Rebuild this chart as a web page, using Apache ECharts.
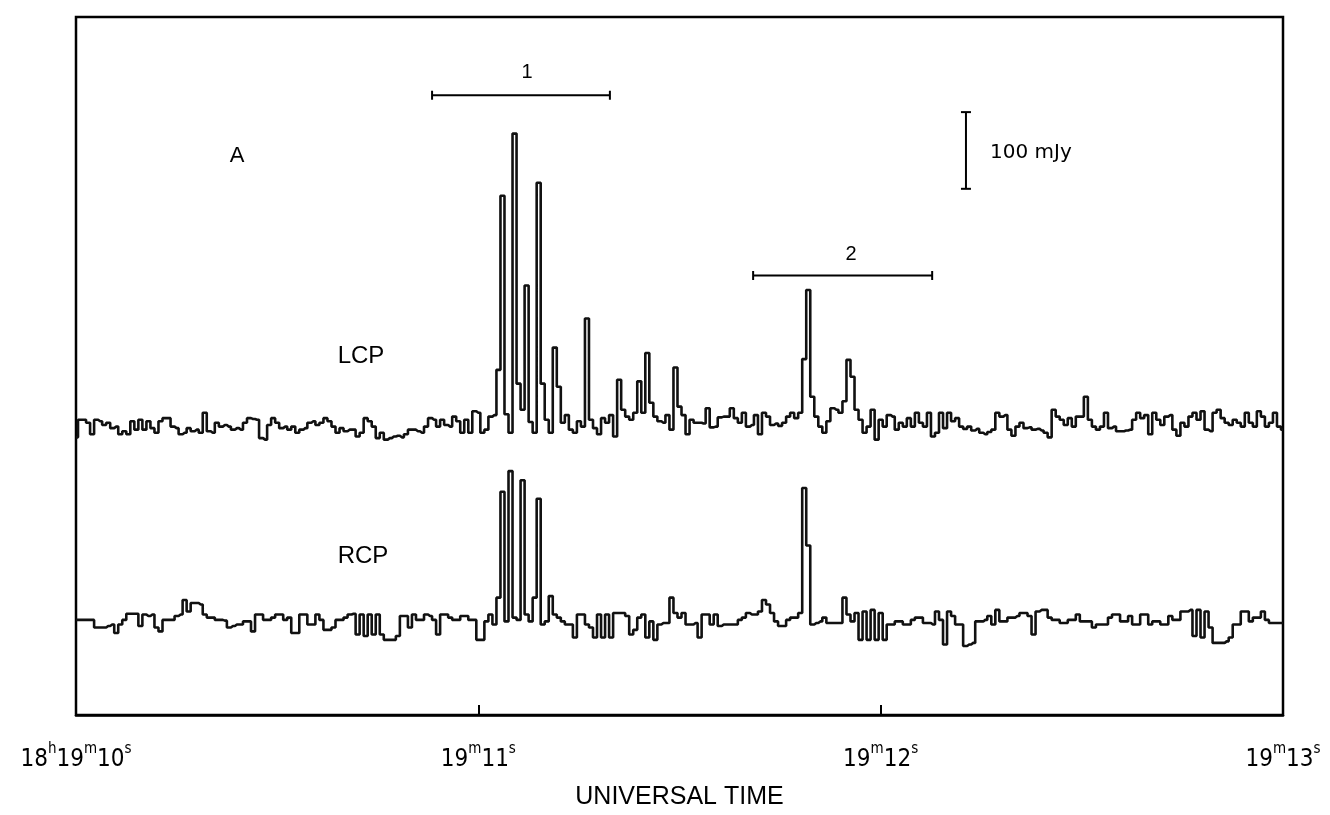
<!DOCTYPE html>
<html>
<head>
<meta charset="utf-8">
<title>LCP / RCP</title>
<script src="https://cdn.jsdelivr.net/npm/echarts@6/dist/echarts.min.js"></script>
<style>
  html, body { margin: 0; padding: 0; background: #fff; }
  #chart { width: 1330px; height: 815px; }
</style>
</head>
<body>
<div id="chart"></div>
<script>
// one sample every 10 ms starting at 18h19m10s, values are mJy offsets from each trace's baseline
var t0 = 10;
var dt = 0.01;
var lcpBase = 372;
var rcpBase = 124;

var lcp = [
  -10, 13, 13, 9, -6, 13, 11, 6, 9, 2,
  4, -6, -2, -6, 11, 0, 13, 0, 11, 2,
  -4, 11, 15, 15, 4, 2, -6, -4, 2, -2,
  0, -4, 22, -2, -4, 9, 4, 6, 4, 0,
  2, 0, 9, 15, 14, 13, -11, -13, 6, 15,
  9, 2, 4, 0, 4, -4, 0, 2, 9, 11,
  6, 9, 15, 11, 4, -4, 2, -2, 0, 0,
  -9, -4, 15, 11, 4, -11, -4, -13, -11, -9,
  -8, -10, -6, 0, 0, -2, -4, 4, 15, 13,
  4, 13, 6, 4, 17, 11, -4, 13, -4, 24,
  22, -4, 0, 17, 19, 78, 305, 20, -4, 386,
  60, 26, 188, 10, -4, 322, 60, 13, -4, 107,
  56, 9, 19, 0, -4, 11, 4, 145, 13, 2,
  -6, 15, 9, 19, -9, 65, 26, 17, 13, 22,
  63, 22, 100, 35, 17, 11, 9, 19, 0, 81,
  30, 19, -6, 13, 9, 9, 8, 28, 3, 4,
  16, 17, 17, 28, 15, 9, 22, 4, 6, 19,
  -6, 22, 17, 6, 8, 5, 9, 17, 22, 15,
  22, 92, 182, 43, 17, 4, -4, 11, 28, 26,
  22, 37, 91, 69, 26, 13, -4, 4, 26, -13,
  13, 4, 19, 17, 0, 9, 4, 15, 4, 22,
  9, 4, 22, -9, -4, 22, 2, 22, 11, 15,
  4, 1, 4, -1, 1, -4, -6, -3, 0, 22,
  17, 19, 0, -8, 4, 9, 2, 3, 0, 1,
  -1, -4, -10, 26, 17, 13, 6, 15, 4, 17,
  17, 43, 13, 4, 0, 4, 22, 2, 4, -2,
  -2, -1, 0, 13, 22, 15, 19, -6, 22, 13,
  6, 17, 19, 0, -8, 9, 4, 17, 22, 13,
  24, 0, -2, 22, 26, 15, 9, 6, 13, 9,
  4, 22, 9, 4, 24, 17, 4, 9, 22, 4,
  0
];

var rcp = [
  0, 0, 0, 0, 0, -10, -10, -10, -8, -6,
  -17, -6, 0, 8, 8, 8, -8, 7, 5, 7,
  -10, -15, 0, 0, 0, 5, 7, 26, 11, 22,
  22, 20, 7, 3, 3, 0, 0, -1, -10, -8,
  -6, -6, -2, -2, -15, 7, 7, 0, 0, 3,
  7, 7, 0, 3, -17, -17, 7, 7, -6, -6,
  7, 0, -13, -13, -10, 0, 0, 3, 7, 8,
  -19, 7, -21, 7, -19, 7, -19, -26, -26, -26,
  -21, 5, 5, -10, 7, 0, 0, 7, 5, 0,
  -19, 7, 7, 3, 0, 0, 5, 5, 0, 0,
  -26, -26, -2, 7, -6, 29, 167, -2, 194, 3,
  0, 182, 7, -2, 29, 158, -6, -2, 31, 7,
  3, -2, -6, -6, -23, 7, 7, -6, -10, -23,
  7, -23, 7, -23, 9, 9, 9, 5, -19, -13,
  3, 7, -23, -2, -26, -6, -4, -4, 29, 9,
  3, 9, -6, -6, -4, -23, 7, 7, -6, 7,
  -8, -6, -6, -6, -6, 0, 3, 9, 7, 7,
  11, 26, 20, 9, -2, -8, -8, 0, 3, 3,
  9, 172, 97, -6, -4, -2, 3, -4, -4, -4,
  -4, 29, 7, -2, 9, -26, 11, -26, 13, -26,
  9, -26, -6, -6, -2, -2, -6, -6, 0, 3,
  3, -4, -4, -6, 11, 0, -32, 11, 5, -6,
  -6, -34, -32, -30, -2, -2, 0, 5, -6, 13,
  -2, -2, 3, 3, 5, 9, 9, 5, -19, 11,
  13, 13, 3, 0, 0, -4, -4, 0, 0, 7,
  -2, -2, -2, -10, -6, -6, -6, 3, 7, 7,
  -2, -2, 5, -6, -6, 7, 7, -6, -2, -2,
  -6, -6, 5, 0, 0, 11, 11, 13, -21, 13,
  -23, 11, -10, -30, -30, -30, -28, -23, -6, -6,
  11, 11, -2, 3, 3, 11, 0, -4, -4, -4,
  -4
];

var xTicks = [10, 11, 12, 13];
var tickLabels = ["18h19m10s", "19m11s", "19m12s", "19m13s"];

// burst windows (s) and the level (mJy) they are drawn at
var burst1 = [10.885, 11.327];
var burst1Level = 808;
var burst2 = [11.683, 12.128];
var burst2Level = 573;
// 100 mJy scale bar
var scaleBarX = 12.212;
var scaleBar = [686, 786];

function toSeries(values, base) {
  var out = [];
  for (var i = 0; i < values.length; i++) {
    out.push([t0 + i * dt, base + values[i]]);
  }
  return out;
}

function richLabel(s) {
  return s.replace(/(\d+)/g, "{n|$1}").replace(/([hms])/g, "{s|$1}");
}

var font = "'Liberation Sans Narrow', 'DejaVu Sans Condensed', 'Liberation Sans', sans-serif";

var myChart = echarts.init(document.getElementById("chart"));

myChart.setOption({
  animation: false,
  backgroundColor: "#fff",
  grid: {
    left: 76,
    right: 47,
    top: 17,
    bottom: 97,
    show: true,
    borderColor: "#000",
    borderWidth: 2.5
  },
  xAxis: {
    type: "value",
    min: 10,
    max: 13,
    interval: 1,
    splitLine: { show: false },
    axisLine: { show: true, lineStyle: { color: "#000", width: 2.5 } },
    axisTick: { show: true, inside: true, length: 10, lineStyle: { color: "#000", width: 2 } },
    axisLabel: {
      margin: 27,
      color: "#000",
      formatter: function(v) {
        var k = xTicks.indexOf(v);
        return k < 0 ? "" : richLabel(tickLabels[k]);
      },
      rich: {
        n: { fontSize: 24, fontFamily: font, color: "#000", lineHeight: 30, verticalAlign: "bottom" },
        s: { fontSize: 15, fontFamily: font, color: "#000", lineHeight: 30, verticalAlign: "top" }
      }
    },
    name: "UNIVERSAL TIME",
    nameLocation: "middle",
    nameGap: 70,
    nameTextStyle: { fontSize: 25, fontFamily: "'Liberation Sans', sans-serif", color: "#000" }
  },
  yAxis: {
    type: "value",
    min: 0,
    max: 910,
    show: false
  },
  series: [
    {
      name: "LCP",
      type: "line",
      step: "middle",
      showSymbol: false,
      symbol: "none",
      lineStyle: { color: "#111", width: 2.6 },
      data: toSeries(lcp, lcpBase)
    },
    {
      name: "RCP",
      type: "line",
      step: "middle",
      showSymbol: false,
      symbol: "none",
      lineStyle: { color: "#111", width: 2.6 },
      data: toSeries(rcp, rcpBase)
    },
    {
      type: "line",
      symbol: "rect",
      symbolSize: [2, 9],
      itemStyle: { color: "#000" },
      lineStyle: { color: "#000", width: 2 },
      data: [[burst1[0], burst1Level], [burst1[1], burst1Level]]
    },
    {
      type: "line",
      symbol: "rect",
      symbolSize: [2, 9],
      itemStyle: { color: "#000" },
      lineStyle: { color: "#000", width: 2 },
      data: [[burst2[0], burst2Level], [burst2[1], burst2Level]]
    },
    {
      type: "line",
      symbol: "rect",
      symbolSize: [10, 2],
      itemStyle: { color: "#000" },
      lineStyle: { color: "#000", width: 2 },
      data: [[scaleBarX, scaleBar[0]], [scaleBarX, scaleBar[1]]]
    }
  ],
  graphic: [
    { type: "text", x: 237, y: 156, style: { text: "A", font: "22px 'Liberation Sans', sans-serif", fill: "#000", align: "center", verticalAlign: "middle" } },
    { type: "text", x: 361, y: 356, style: { text: "LCP", font: "24px 'Liberation Sans', sans-serif", fill: "#000", align: "center", verticalAlign: "middle" } },
    { type: "text", x: 363, y: 556, style: { text: "RCP", font: "24px 'Liberation Sans', sans-serif", fill: "#000", align: "center", verticalAlign: "middle" } },
    { type: "text", x: 527, y: 72, style: { text: "1", font: "20px 'Liberation Sans', sans-serif", fill: "#000", align: "center", verticalAlign: "middle" } },
    { type: "text", x: 851, y: 254, style: { text: "2", font: "20px 'Liberation Sans', sans-serif", fill: "#000", align: "center", verticalAlign: "middle" } },
    { type: "text", x: 990, y: 153, style: { text: "100 mJy", font: "20px 'DejaVu Sans', sans-serif", fill: "#000", align: "left", verticalAlign: "middle" } }
  ]
});
</script>
</body>
</html>
